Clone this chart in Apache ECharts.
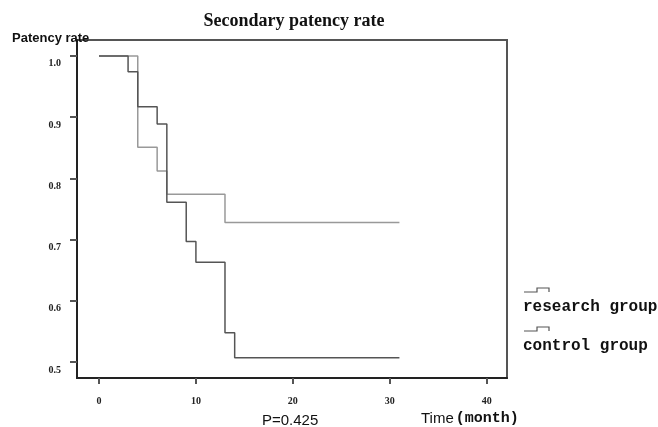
<!DOCTYPE html>
<html>
<head>
<meta charset="utf-8">
<script src="https://cdn.jsdelivr.net/npm/echarts@6/dist/echarts.min.js"></script>
<style>html,body{margin:0;padding:0;background:#fff}#c{width:658px;height:427px}</style>
</head>
<body>
<div id="c"></div>
<script>
// Data (Kaplan-Meier step curves)
const researchTime  = [0, 3, 4, 6, 7, 9, 10, 13, 14, 31];
const researchRate  = [1.0, 0.974, 0.917, 0.889, 0.761, 0.697, 0.663, 0.548, 0.507, 0.507];
const controlTime   = [0, 4, 6, 7, 13, 31];
const controlRate   = [1.0, 0.851, 0.812, 0.774, 0.728, 0.728];
const xTicks = [0, 10, 20, 30, 40];
const yTicks = [0.5, 0.6, 0.7, 0.8, 0.9, 1.0];
const seriesNames = ['research group', 'control group'];

const research = researchTime.map((t, i) => [t, researchRate[i]]);
const control = controlTime.map((t, i) => [t, controlRate[i]]);

const chart = echarts.init(document.getElementById('c'), null, {renderer: 'canvas'});
const tickFont = {fontFamily: 'Liberation Serif', fontWeight: 'bold', fontSize: 10, color: '#222'};

const legendIcon = (y) => ({
  type: 'polyline',
  shape: {points: [[524, y], [537, y], [537, y - 4], [549, y - 4], [549, y]]},
  style: {stroke: '#555', lineWidth: 1.2, fill: null}
});

chart.setOption({
  animation: false,
  backgroundColor: '#fff',
  title: {
    text: 'Secondary patency rate',
    left: 289, top: 7, textAlign: 'center',
    textStyle: {fontFamily: 'Liberation Serif', fontWeight: 'bold', fontSize: 18, color: '#111'}
  },
  grid: {left: 77, right: 151, top: 40, bottom: 49, show: true, borderColor: '#555', borderWidth: 2, backgroundColor: 'transparent'},
  xAxis: {
    type: 'value', min: -2.27, max: 42.1,
    splitLine: {show: false},
    axisLine: {show: true, onZero: false, lineStyle: {color: '#222', width: 2}},
    axisTick: {show: true, length: 6, customValues: xTicks, lineStyle: {color: '#555', width: 2}},
    axisLabel: Object.assign({customValues: xTicks, margin: 18, formatter: v => String(v)}, tickFont)
  },
  yAxis: {
    type: 'value', min: 0.474, max: 1.026,
    splitLine: {show: false},
    axisLine: {show: true, onZero: false, lineStyle: {color: '#222', width: 2}},
    axisTick: {show: true, length: 7, customValues: yTicks, lineStyle: {color: '#555', width: 2}},
    axisLabel: Object.assign({customValues: yTicks, margin: 16, verticalAlign: 'top', lineHeight: 16, formatter: v => v.toFixed(1)}, tickFont)
  },
  series: [
    {name: seriesNames[0], type: 'line', step: 'end', data: research, showSymbol: false, symbol: 'none',
     lineStyle: {color: '#555', width: 1.5}, z: 3},
    {name: seriesNames[1], type: 'line', step: 'end', data: control, showSymbol: false, symbol: 'none',
     lineStyle: {color: '#999', width: 1.5}, z: 2}
  ],
  graphic: [
    {type: 'text', left: 12, top: 32, z: 10, style: {text: 'Patency rate', fontFamily: 'Liberation Sans', fontWeight: 'bold', fontSize: 13, fill: '#111'}},
    {type: 'text', left: 262, top: 413, style: {text: 'P=0.425', fontFamily: 'Liberation Sans', fontSize: 15, fill: '#111'}},
    {type: 'text', left: 421, top: 411, style: {
      text: '{a|Time}{b|(month)}',
      rich: {
        a: {fontFamily: 'Liberation Sans', fontSize: 15, fill: '#111', padding: [0, 2, 0, 0]},
        b: {fontFamily: 'Liberation Mono', fontWeight: 'bold', fontSize: 15, fill: '#111'}
      }
    }},
    legendIcon(292),
    {type: 'text', left: 523, top: 299, style: {text: seriesNames[0], fontFamily: 'Liberation Mono', fontWeight: 'bold', fontSize: 16, fill: '#111'}},
    legendIcon(331),
    {type: 'text', left: 523, top: 338, style: {text: seriesNames[1], fontFamily: 'Liberation Mono', fontWeight: 'bold', fontSize: 16, fill: '#111'}}
  ]
});
</script>
</body>
</html>
